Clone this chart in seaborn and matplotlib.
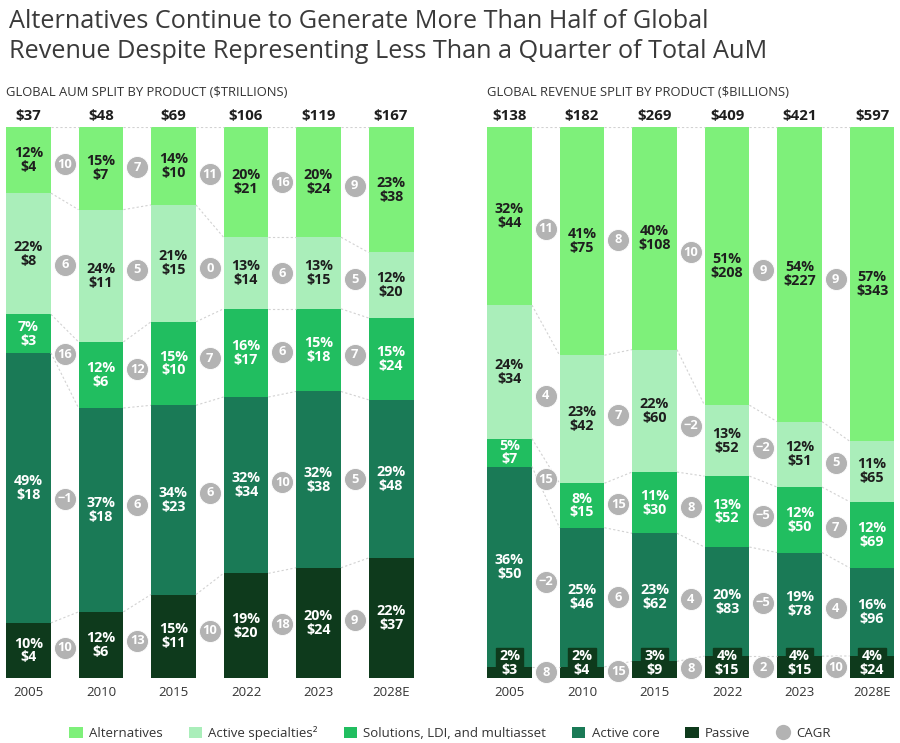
import numpy as np
import matplotlib.pyplot as plt
import seaborn as sns
from matplotlib.patches import Patch, Rectangle
from matplotlib.lines import Line2D

# chart values
years = ["2005", "2010", "2015", "2022", "2023", "2028E"]
products = ["Alternatives", "Active specialties\u00b2", "Solutions, LDI, and multiasset",
            "Active core", "Passive"]

# rows: alternatives, active specialties, solutions, active core, passive
aum_total = [37, 48, 69, 106, 119, 167]
aum_pct = [[12, 15, 14, 20, 20, 23],
           [22, 24, 21, 13, 13, 12],
           [7, 12, 15, 16, 15, 15],
           [49, 37, 34, 32, 32, 29],
           [10, 12, 15, 19, 20, 22]]
aum_val = [[4, 7, 10, 21, 24, 38],
           [8, 11, 15, 14, 15, 20],
           [3, 6, 10, 17, 18, 24],
           [18, 18, 23, 34, 38, 48],
           [4, 6, 11, 20, 24, 37]]
aum_cagr = [[10, 7, 11, 16, 9],
            [6, 5, 0, 6, 5],
            [16, 12, 7, 6, 7],
            [-1, 6, 6, 10, 5],
            [10, 13, 10, 18, 9]]

rev_total = [138, 182, 269, 409, 421, 597]
rev_pct = [[32, 41, 40, 51, 54, 57],
           [24, 23, 22, 13, 12, 11],
           [5, 8, 11, 13, 12, 12],
           [36, 25, 23, 20, 19, 16],
           [2, 2, 3, 4, 4, 4]]
rev_val = [[44, 75, 108, 208, 227, 343],
           [34, 42, 60, 52, 51, 65],
           [7, 15, 30, 52, 50, 69],
           [50, 46, 62, 83, 78, 96],
           [3, 4, 9, 15, 15, 24]]
rev_cagr = [[11, 8, 10, 9, 9],
            [4, 7, -2, -2, 5],
            [15, 15, 8, -5, 7],
            [-2, 6, 4, -5, 4],
            [8, 15, 8, 2, 10]]

colors = ["#7ef07a", "#aaeeba", "#21be60", "#1a7a56", "#0e3a1c"]
text_colors = ["#1e1e1e", "#1e1e1e", "white", "white", "white"]
cagr_color = "#b3b3b3"
bw = 0.62

sns.set_theme(style="white")
plt.rcParams['font.family'] = ['Open Sans', 'DejaVu Sans']


def fmt_num(v):
    return f"\u2212{abs(v)}" if v < 0 else f"{v}"


def draw_panel(ax, pct, val, cagr, totals, passive_box=False):
    pct = np.array(pct, dtype=float)
    share = pct / pct.sum(axis=0)
    tops = np.cumsum(share[::-1], axis=0)[::-1]
    mids = tops - share / 2

    # stacked bars: draw tallest cumulative first, smaller ones on top
    for k in range(5):
        sns.barplot(x=years, y=tops[k], color=colors[k], width=bw, saturation=1,
                    errorbar=None, linewidth=0, ax=ax)

    # dotted connectors between segment boundaries
    for k in range(5):
        for i in range(5):
            ax.plot([i + bw / 2, i + 1 - bw / 2], [tops[k][i], tops[k][i + 1]],
                    ls=(0, (2, 2)), color="#d2d2d2", lw=0.8, zorder=1)

    # segment labels
    for k in range(5):
        for i in range(6):
            y = mids[k][i]
            if passive_box and k == 4:
                bh = 0.054
                ax.add_patch(Rectangle((i - 0.19, 0), 0.38, bh, color=colors[4], zorder=3))
                y = bh / 2
            ax.text(i, y, f"{int(pct[k][i])}%\n${val[k][i]}", ha="center", va="center",
                    fontsize=10.3, fontweight="bold", color=text_colors[k],
                    linespacing=0.98, zorder=4)

    # CAGR bubbles
    for k in range(5):
        xs = np.arange(5) + 0.5
        ys = (mids[k][:-1] + mids[k][1:]) / 2
        ax.scatter(xs, ys, s=250, color=cagr_color, edgecolor="white", linewidth=0.6,
                   zorder=5, clip_on=False)
        for x, y, c in zip(xs, ys, cagr[k]):
            ax.text(x, y, fmt_num(c), ha="center", va="center", fontsize=9.3,
                    fontweight="bold", color="white", zorder=6)

    # totals above bars
    for i, t in enumerate(totals):
        ax.text(i, 1.008, f"${t}", ha="center", va="bottom", fontsize=10.8,
                fontweight="bold", color="#1e1e1e")

    ax.set_xlim(-bw / 2, 5 + bw / 2)
    ax.set_ylim(0, 1)
    ax.set_yticks([])
    ax.set_xlabel("")
    ax.set_ylabel("")
    ax.tick_params(axis="x", length=0, pad=6, labelsize=9.5, labelcolor="#333333")
    sns.despine(ax=ax, left=True, bottom=True)


fig = plt.figure(figsize=(9, 7.43), dpi=100)
ax1 = fig.add_axes([6 / 900, 65 / 743, 407.5 / 900, 551 / 743])
ax2 = fig.add_axes([487 / 900, 65 / 743, 407.5 / 900, 551 / 743])

draw_panel(ax1, aum_pct, aum_val, aum_cagr, aum_total)
draw_panel(ax2, rev_pct, rev_val, rev_cagr, rev_total, passive_box=True)

fig.text(9 / 900, 1 - 28 / 743,
         "Alternatives Continue to Generate More Than Half of Global",
         ha="left", va="baseline", fontsize=18.2, color="#3a3a3a")
fig.text(9 / 900, 1 - 58 / 743,
         "Revenue Despite Representing Less Than a Quarter of Total AuM",
         ha="left", va="baseline", fontsize=18.2, color="#3a3a3a")
fig.text(6 / 900, 1 - 96 / 743, "GLOBAL AUM SPLIT BY PRODUCT ($TRILLIONS)",
         ha="left", va="baseline", fontsize=9.4, color="#333333")
fig.text(487 / 900, 1 - 96 / 743, "GLOBAL REVENUE SPLIT BY PRODUCT ($BILLIONS)",
         ha="left", va="baseline", fontsize=9.4, color="#333333")

handles = [Patch(facecolor=c, edgecolor="none", label=p) for c, p in zip(colors, products)]
handles.append(Line2D([], [], marker="o", ls="none", markersize=11,
                      markerfacecolor=cagr_color, markeredgecolor="none", label="CAGR"))
fig.legend(handles=handles, loc="lower center", bbox_to_anchor=(0.5, -0.012), ncol=6,
           frameon=False, fontsize=9.5, handlelength=1.0, handleheight=1.0,
           handletextpad=0.5, columnspacing=1.95, labelcolor="#333333")

fig.savefig("out.png", dpi=100)
